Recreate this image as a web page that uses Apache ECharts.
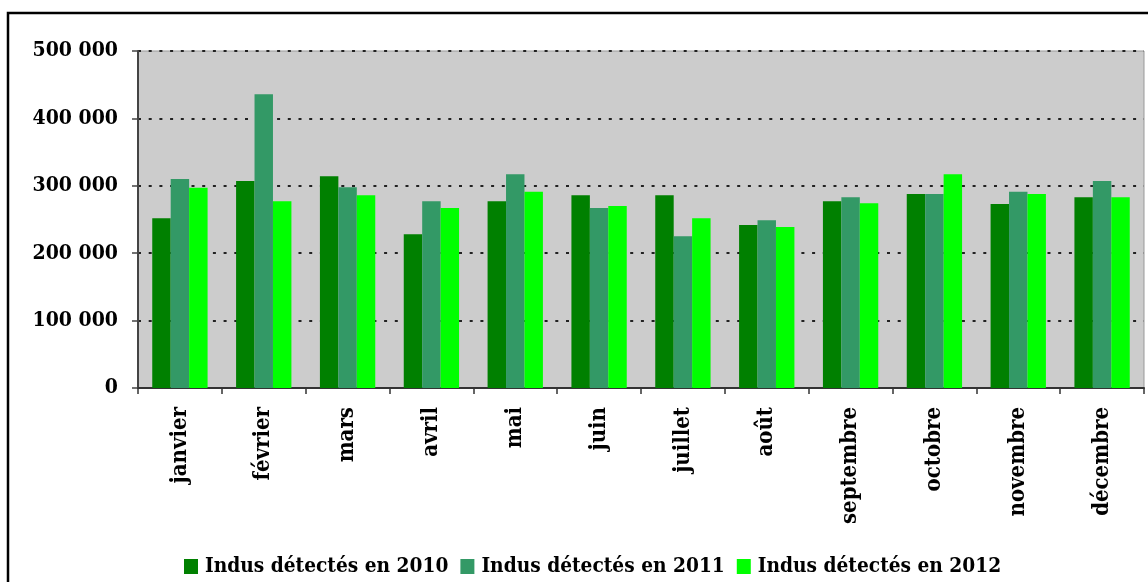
<!DOCTYPE html>
<html>
<head>
<meta charset="utf-8">
<script src="https://cdn.jsdelivr.net/npm/echarts@6/dist/echarts.min.js"></script>
<style>
  html, body { margin: 0; padding: 0; background: #fff; }
  #chart { width: 1148px; height: 582px; }
</style>
</head>
<body>
<div id="chart"></div>
<script>
// mois
const months = ['janvier', 'février', 'mars', 'avril', 'mai', 'juin',
  'juillet', 'août', 'septembre', 'octobre', 'novembre', 'décembre'];

// indus détectés par année
const indus2010 = [252000, 307000, 314000, 228000, 277000, 286000, 286000, 242000, 277000, 288000, 273000, 283000];
const indus2011 = [310000, 436000, 298000, 277000, 317000, 267000, 225000, 249000, 283000, 288000, 291000, 307000];
const indus2012 = [297000, 277000, 286000, 267000, 291000, 270000, 252000, 239000, 274000, 317000, 288000, 283000];

const seriesNames = ['Indus détectés en 2010', 'Indus détectés en 2011', 'Indus détectés en 2012'];
const colors = ['#008000', '#339966', '#00FF00'];

const FONT = '"DejaVu Serif Condensed", "DejaVu Serif", serif';

const chart = echarts.init(document.getElementById('chart'));

// séparateur des milliers avec espace
function fmt(v) {
  return String(v).replace(/\B(?=(\d{3})+(?!\d))/g, ' ');
}

const option = {
  backgroundColor: '#fff',
  animation: false,
  color: colors,
  textStyle: { fontFamily: FONT },
  graphic: [{
    type: 'rect',
    shape: { x: 8, y: 13, width: 1200, height: 700 },
    style: { fill: 'none', stroke: '#000', lineWidth: 2.5 },
    silent: true,
    z: -1
  }],
  grid: {
    left: 138,
    right: 4,
    top: 51,
    bottom: 194,
    show: true,
    backgroundColor: '#CCCCCC',
    borderColor: '#999',
    borderWidth: 1
  },
  legend: {
    top: 551,
    left: 179,
    itemWidth: 14,
    itemHeight: 15,
    itemGap: 12,
    icon: 'rect',
    textStyle: {
      fontFamily: FONT,
      fontWeight: 'bold',
      fontSize: 20.7,
      color: '#000',
      padding: [0, 0, 0, 2]
    },
    data: seriesNames
  },
  xAxis: {
    type: 'category',
    data: months,
    axisLine: { lineStyle: { color: '#333', width: 2 } },
    axisTick: { show: true, length: 6, lineStyle: { color: '#333', width: 1.5 } },
    axisLabel: {
      rotate: 90,
      margin: 19,
      fontFamily: FONT,
      fontWeight: 'bold',
      fontSize: 22,
      color: '#000'
    },
    splitLine: { show: false }
  },
  yAxis: {
    type: 'value',
    min: 0,
    max: 500000,
    interval: 100000,
    axisLine: { show: true, lineStyle: { color: '#444', width: 2 } },
    axisTick: { show: true, length: 6, lineStyle: { color: '#444', width: 1.5 } },
    axisLabel: {
      margin: 20,
      fontFamily: FONT,
      fontWeight: 'bold',
      fontSize: 21,
      color: '#000',
      formatter: fmt
    },
    splitLine: {
      show: true,
      lineStyle: { color: '#222', width: 2, type: [3, 7.7] }
    }
  },
  series: [
    { name: seriesNames[0], type: 'bar', data: indus2010, barGap: '0%', barCategoryGap: '34%' },
    { name: seriesNames[1], type: 'bar', data: indus2011, barGap: '0%', barCategoryGap: '34%' },
    { name: seriesNames[2], type: 'bar', data: indus2012, barGap: '0%', barCategoryGap: '34%' }
  ]
};

chart.setOption(option);
</script>
</body>
</html>
